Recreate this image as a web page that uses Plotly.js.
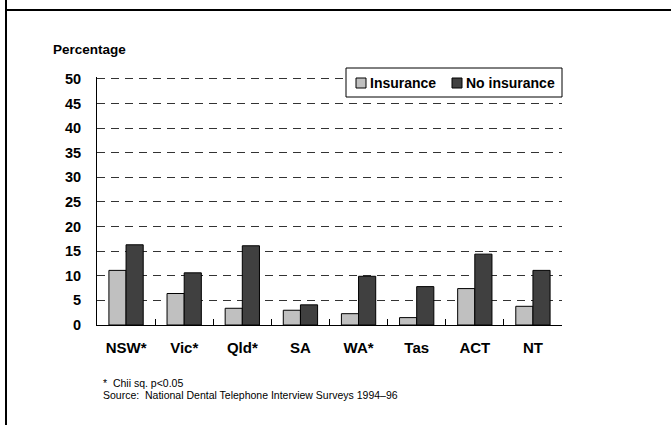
<!DOCTYPE html>
<html>
<head>
<meta charset="utf-8">
<script src="https://cdn.plot.ly/plotly-3.0.1.min.js"></script>
<style>
html,body{margin:0;padding:0;background:#fff;}
#chart{width:671px;height:425px;}
</style>
</head>
<body>
<div id="chart"></div>
<script>
const states = ["NSW*", "Vic*", "Qld*", "SA", "WA*", "Tas", "ACT", "NT"];
const insurance = [11.1, 6.4, 3.4, 3.0, 2.3, 1.5, 7.4, 3.8];
const noInsurance = [16.3, 10.6, 16.1, 4.1, 9.9, 7.8, 14.4, 11.1];
const yTicks = [0, 5, 10, 15, 20, 25, 30, 35, 40, 45, 50];
const seriesNames = ["Insurance", "No insurance"];
const seriesColors = ["#c0c0c0", "#404040"];

const FONT = "Liberation Sans, Arial, sans-serif";
const L = 97, R = 562, T = 77, B = 325, W = 671, H = 425;
const px = x => (x - L) / (R - L);
const py = y => (B - y) / (B - T);

const traces = [
  {type: "bar", name: seriesNames[0], x: states, y: insurance,
   marker: {color: seriesColors[0], line: {color: "#000", width: 1}}},
  {type: "bar", name: seriesNames[1], x: states, y: noInsurance,
   marker: {color: seriesColors[1], line: {color: "#000", width: 1}}}
];

// manual legend (box, swatches, labels)
const legendShapes = [
  {type: "rect", xref: "paper", yref: "paper", x0: px(346), x1: px(562), y0: py(68), y1: py(97),
   fillcolor: "#fff", line: {color: "#000", width: 1}, layer: "above"},
  {type: "rect", xref: "paper", yref: "paper", x0: px(356), x1: px(366), y0: py(78), y1: py(88),
   fillcolor: seriesColors[0], line: {color: "#000", width: 1}, layer: "above"},
  {type: "rect", xref: "paper", yref: "paper", x0: px(452), x1: px(462), y0: py(78), y1: py(88),
   fillcolor: seriesColors[1], line: {color: "#000", width: 1}, layer: "above"}
];
const legendLabels = [
  {text: "<b>" + seriesNames[0] + "</b>", xref: "paper", yref: "paper", x: px(368), y: py(83),
   xanchor: "left", yanchor: "middle", showarrow: false,
   font: {family: FONT, size: 14, color: "#000"}},
  {text: "<b>" + seriesNames[1] + "</b>", xref: "paper", yref: "paper", x: px(464), y: py(83),
   xanchor: "left", yanchor: "middle", showarrow: false,
   font: {family: FONT, size: 14, color: "#000"}}
];

const layout = {
  width: W, height: H,
  margin: {l: L, r: W - R, t: T, b: H - B, pad: 0},
  paper_bgcolor: "#fff", plot_bgcolor: "#fff",
  font: {family: FONT, color: "#000"},
  barmode: "group", bargap: 0.41, bargroupgap: 0,
  showlegend: false,
  xaxis: {
    type: "category", showline: true, linecolor: "#000", linewidth: 1,
    ticks: "inside", tickson: "boundaries", ticklen: 6, tickcolor: "#000",
    showgrid: false, ticklabelstandoff: 9,
    tickfont: {family: FONT, size: 15, weight: "bold", color: "#000"}
  },
  yaxis: {
    range: [0, 50.4], tickvals: yTicks, ticktext: yTicks.map(String),
    showline: true, linecolor: "#000", linewidth: 1,
    ticks: "", showgrid: true, gridcolor: "#333", gridwidth: 1,
    griddash: "8px,6px", zeroline: false, ticklabelstandoff: 12,
    tickfont: {family: FONT, size: 14.5, weight: "bold", color: "#000"}
  },
  annotations: [
    {text: "<b>Percentage</b>", xref: "paper", yref: "paper", x: px(51), y: py(49),
     xanchor: "left", yanchor: "middle", showarrow: false,
     font: {family: FONT, size: 13.5, color: "#000"}},
    {text: "*  Chii sq. p<0.05", xref: "paper", yref: "paper", x: px(101), y: py(383),
     xanchor: "left", yanchor: "middle", showarrow: false,
     font: {family: FONT, size: 10.5, color: "#000"}},
    {text: "Source:  National Dental Telephone Interview Surveys 1994–96", xref: "paper", yref: "paper", x: px(101), y: py(395),
     xanchor: "left", yanchor: "middle", showarrow: false,
     font: {family: FONT, size: 10.5, color: "#000"}}
  ].concat(legendLabels),
  shapes: [
    {type: "line", xref: "paper", yref: "paper", x0: px(6), x1: px(671), y0: py(10), y1: py(10),
     line: {color: "#000", width: 2}},
    {type: "line", xref: "paper", yref: "paper", x0: px(6), x1: px(6), y0: py(0), y1: py(425),
     line: {color: "#000", width: 2}}
  ].concat(legendShapes)
};

Plotly.newPlot("chart", traces, layout, {displayModeBar: false, staticPlot: true});
</script>
</body>
</html>
